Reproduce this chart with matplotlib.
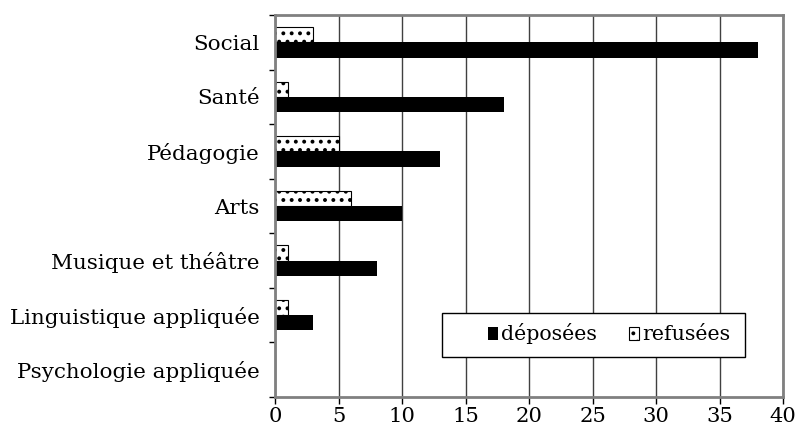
import matplotlib
matplotlib.use("Agg")
import matplotlib.pyplot as plt
from matplotlib.patches import Rectangle
import numpy as np

categories = ["Psychologie appliquée", "Linguistique appliquée", "Musique et théâtre",
              "Arts", "Pédagogie", "Santé", "Social"]
deposees = [0, 3, 8, 10, 13, 18, 38]
refusees = [0, 1, 1, 6, 5, 1, 3]
xticks = [0, 5, 10, 15, 20, 25, 30, 35, 40]

plt.rcParams['font.family'] = ['DejaVu Serif']
plt.rcParams['hatch.linewidth'] = 1.6

fig = plt.figure(figsize=(8, 4.37), dpi=100)
ax = fig.add_axes([0.344, 0.0915, 0.635, 0.874])

y = np.arange(len(categories))
h = 0.28
ax.barh(y - h / 2, deposees, height=h, color='black', edgecolor='black', linewidth=0,
        label='déposées', zorder=3)
ax.barh(y + h / 2, refusees, height=h, color='white', edgecolor='black', linewidth=0.8,
        hatch='..', label='refusées', zorder=3)

ax.set_xlim(0, 40)
ax.set_ylim(-0.5, len(categories) - 0.5)
ax.set_xticks(xticks)
ax.set_yticks(y)
ax.set_yticklabels(categories)
ax.set_yticks(np.arange(-0.5, len(categories), 1), minor=True)
ax.tick_params(axis='y', which='major', length=0, pad=11, labelsize=15.4)
ax.tick_params(axis='y', which='minor', length=4, width=1, color='black', direction='out')
ax.tick_params(axis='x', which='major', length=5, width=1, color='black', direction='out',
               labelsize=15.2, pad=2)

ax.grid(axis='x', color='#404040', linewidth=1, zorder=0)
for s in ax.spines.values():
    s.set_color('#808080')
    s.set_linewidth(2)
    s.set_zorder(4)

# legend box
ax.add_patch(Rectangle((0.329, 0.105), 0.596, 0.115, transform=ax.transAxes,
                       facecolor='white', edgecolor='black', linewidth=1, zorder=4))
leg = ax.legend(loc='center left', bbox_to_anchor=(0.418, 0.165),
                ncol=2, frameon=False, fontsize=14.8, handlelength=0.5,
                handleheight=0.6, handletextpad=0.15, borderaxespad=0, columnspacing=1.55,
                borderpad=0)
leg.set_zorder(5)

fig.savefig("out.png", dpi=100)
